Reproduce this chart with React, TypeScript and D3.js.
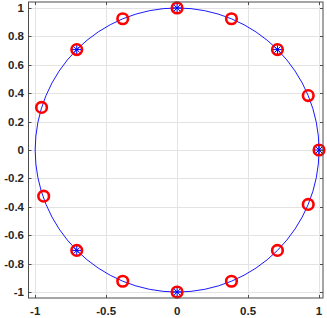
import React, { useEffect, useRef } from 'react'
import * as d3 from 'd3'

// red circle markers
const ringX = [0, 0.383, 0.707, 0.924, 1, 0.924, 0.707, 0.383, 0, -0.383, -0.707, -0.94, -0.955, -0.707, -0.383]
const ringY = [1, 0.924, 0.707, 0.383, 0, -0.383, -0.707, -0.924, -1, -0.924, -0.707, -0.325, 0.3, 0.707, 0.924]

// blue asterisk markers
const starX = [0, 0.707, 1, 0, -0.707, -0.707]
const starY = [1, 0.707, 0, -1, -0.707, 0.707]

const xTicks = [-1, -0.5, 0, 0.5, 1]
const yTicks = [-1, -0.8, -0.6, -0.4, -0.2, 0, 0.2, 0.4, 0.6, 0.8, 1]

export default function App() {
  const ref = useRef<SVGSVGElement | null>(null)

  useEffect(() => {
    if (!ref.current) return
    const width = 327
    const height = 318
    const left = 28.5
    const right = 323
    const top = 2
    const bottom = 298

    const x = d3.scaleLinear().domain([-1.047, 1.028]).range([left, right])
    const y = d3.scaleLinear().domain([-1.042, 1.042]).range([bottom, top])

    const svg = d3
      .select(ref.current)
      .attr('width', width)
      .attr('height', height)
      .style('position', 'absolute')
      .style('left', '0px')
      .style('top', '0px')
      .style('background', '#fff')

    // grid
    const grid = svg.append('g').attr('stroke', '#e3e3e3').attr('stroke-width', 1)
    grid
      .selectAll('line.gx')
      .data(xTicks)
      .join('line')
      .attr('x1', (d) => Math.round(x(d)) + 0.5)
      .attr('x2', (d) => Math.round(x(d)) + 0.5)
      .attr('y1', top)
      .attr('y2', bottom)
    grid
      .selectAll('line.gy')
      .data(yTicks)
      .join('line')
      .attr('y1', (d) => Math.round(y(d)) + 0.5)
      .attr('y2', (d) => Math.round(y(d)) + 0.5)
      .attr('x1', left)
      .attr('x2', right)

    // unit circle
    svg
      .append('ellipse')
      .attr('cx', x(0))
      .attr('cy', y(0))
      .attr('rx', x(1) - x(0))
      .attr('ry', y(0) - y(1))
      .attr('fill', 'none')
      .attr('stroke', '#0000ff')
      .attr('stroke-width', 0.9)

    // red circles
    svg
      .append('g')
      .selectAll('circle')
      .data(ringX.map((v, i) => [v, ringY[i]]))
      .join('circle')
      .attr('cx', (d) => x(d[0]))
      .attr('cy', (d) => y(d[1]))
      .attr('r', 5.3)
      .attr('fill', 'none')
      .attr('stroke', '#ff0000')
      .attr('stroke-width', 2.6)

    // blue asterisks
    const s = 4.3
    const d45 = s * 0.72
    const star = svg
      .append('g')
      .selectAll('g')
      .data(starX.map((v, i) => [v, starY[i]]))
      .join('g')
      .attr('transform', (d) => `translate(${x(d[0])},${y(d[1])})`)
      .attr('stroke', '#0000ff')
      .attr('stroke-width', 1)
    star.append('line').attr('x1', -s).attr('x2', s)
    star.append('line').attr('y1', -s).attr('y2', s)
    star.append('line').attr('x1', -d45).attr('y1', -d45).attr('x2', d45).attr('y2', d45)
    star.append('line').attr('x1', -d45).attr('y1', d45).attr('x2', d45).attr('y2', -d45)

    // axes box
    const axisColor = '#4d4d4d'
    svg
      .append('rect')
      .attr('x', left)
      .attr('y', top)
      .attr('width', right - left)
      .attr('height', bottom - top)
      .attr('fill', 'none')
      .attr('stroke', axisColor)
      .attr('stroke-width', 1)

    // tick marks (inward, all sides)
    const tl = 3
    const ticks = svg.append('g').attr('stroke', axisColor).attr('stroke-width', 1)
    xTicks.forEach((t) => {
      const px = Math.round(x(t)) + 0.5
      ticks.append('line').attr('x1', px).attr('x2', px).attr('y1', bottom).attr('y2', bottom - tl)
      ticks.append('line').attr('x1', px).attr('x2', px).attr('y1', top).attr('y2', top + tl)
    })
    yTicks.forEach((t) => {
      const py = Math.round(y(t)) + 0.5
      ticks.append('line').attr('y1', py).attr('y2', py).attr('x1', left).attr('x2', left + tl)
      ticks.append('line').attr('y1', py).attr('y2', py).attr('x1', right).attr('x2', right - tl)
    })

    // tick labels
    const fmt = (d: number) => String(d)
    const labels = svg
      .append('g')
      .attr('font-family', 'Liberation Sans, Arial, sans-serif')
      .attr('font-weight', 'bold')
      .attr('font-size', 11.5)
      .attr('fill', '#262626')
    labels
      .selectAll('text.xl')
      .data(xTicks)
      .join('text')
      .attr('x', (d) => x(d))
      .attr('y', 315)
      .attr('text-anchor', 'middle')
      .text(fmt)
    labels
      .selectAll('text.yl')
      .data(yTicks)
      .join('text')
      .attr('x', 24)
      .attr('y', (d) => y(d) + 4)
      .attr('text-anchor', 'end')
      .text(fmt)

    return () => {
      svg.selectAll('*').remove()
    }
  }, [])

  return <svg ref={ref} />
}
